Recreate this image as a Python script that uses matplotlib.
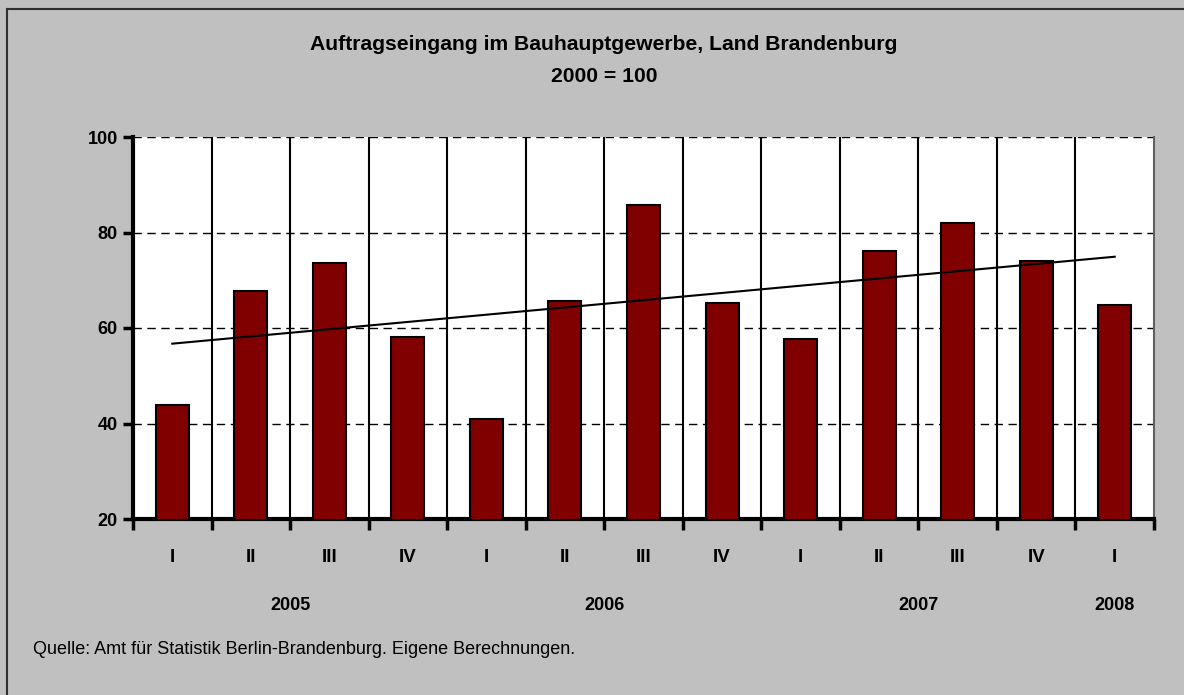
import numpy as np
import matplotlib.pyplot as plt
import matplotlib.transforms as mtransforms
from matplotlib.lines import Line2D

plt.rcParams['font.family'] = ['Liberation Sans Narrow', 'Liberation Sans', 'DejaVu Sans']

# Quartale und Indexwerte (2000 = 100)
quarters = ['I', 'II', 'III', 'IV', 'I', 'II', 'III', 'IV', 'I', 'II', 'III', 'IV', 'I']
values = [43.9, 67.8, 73.7, 58.2, 40.9, 65.7, 85.8, 65.2, 57.6, 76.1, 82.0, 74.0, 64.8]
years = ['2005', '2006', '2007', '2008']
year_pos = [1.5, 5.5, 9.5, 12.0]

BG = '#c0c0c0'
BAR = '#800000'

fig = plt.figure(figsize=(11.84, 6.95), dpi=100, facecolor=BG)
# Rahmen links/oben
fig.add_artist(Line2D([7 / 1184, 7 / 1184], [0, 1 - 9 / 695], transform=fig.transFigure, color='#303030', lw=1.5))
fig.add_artist(Line2D([7 / 1184, 1], [1 - 9 / 695, 1 - 9 / 695], transform=fig.transFigure, color='#303030', lw=1.5))

ax = fig.add_axes([133 / 1184, 1 - 519 / 695, 1021 / 1184, 382 / 695])
ax.set_facecolor('white')

x = np.arange(len(values))
ax.bar(x, values, width=0.42, bottom=0, color=BAR, edgecolor='black', linewidth=1.5, zorder=3)

# linearer Trend
coef = np.polyfit(x, values, 1)
ax.plot(x, np.polyval(coef, x), color='black', lw=1.5, zorder=4)

ax.set_xlim(-0.5, len(values) - 0.5)
ax.set_ylim(20, 100)
ax.set_yticks([20, 40, 60, 80, 100])
ax.set_yticklabels(['20', '40', '60', '80', '100'], fontsize=13, fontweight='bold')

for yv in [40, 60, 80, 100]:
    ax.axhline(yv, color='black', lw=1, ls=(0, (6, 4)), zorder=1)
for b in np.arange(0.5, len(values) - 1, 1.0):
    ax.axvline(b, color='black', lw=1.5, zorder=2)

bounds = np.arange(-0.5, len(values), 1.0)
ax.set_xticks(bounds)
ax.set_xticklabels([])
ax.tick_params(axis='x', direction='out', length=8, width=2.5)
ax.tick_params(axis='y', direction='out', length=7, width=2.5, pad=4)

ax.spines['top'].set_visible(False)
ax.spines['right'].set_color('#606060')
ax.spines['right'].set_linewidth(1.5)
ax.spines['left'].set_linewidth(3)
ax.spines['bottom'].set_linewidth(3)

trans = mtransforms.blended_transform_factory(ax.transData, fig.transFigure)
for i, q in enumerate(quarters):
    ax.text(i, 1 - 557 / 695, q, transform=trans, ha='center', va='center',
            fontsize=13.5, fontweight='bold')
for yr, p in zip(years, year_pos):
    ax.text(p, 1 - 605 / 695, yr, transform=trans, ha='center', va='center',
            fontsize=13, fontweight='bold')

fig.text(0.51, 1 - 45 / 695, 'Auftragseingang im Bauhauptgewerbe, Land Brandenburg',
         ha='center', va='center', fontsize=15.2, fontweight='bold')
fig.text(0.51, 1 - 77 / 695, '2000 = 100', ha='center', va='center',
         fontsize=15.2, fontweight='bold')
fig.text(33 / 1184, 1 - 650 / 695, 'Quelle: Amt für Statistik Berlin-Brandenburg. Eigene Berechnungen.',
         ha='left', va='center', fontsize=13)

plt.savefig('out.png', dpi=100, facecolor=BG)
